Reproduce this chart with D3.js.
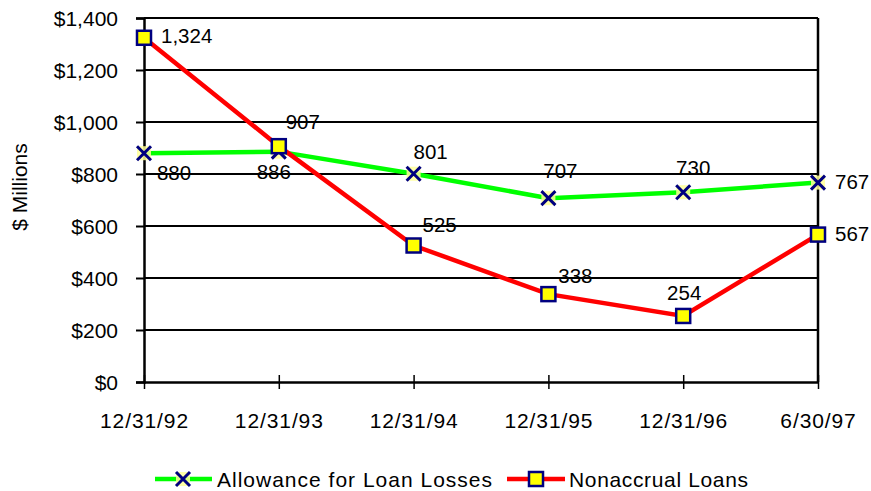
<!DOCTYPE html>
<html>
<head>
<meta charset="utf-8">
<script src="https://cdn.jsdelivr.net/npm/d3@7.9.0/dist/d3.min.js"></script>
<style>
  body { margin: 0; background: #fff; }
  svg text { font-family: "Liberation Sans", Arial, sans-serif; fill: #000; }
</style>
</head>
<body>
<svg id="chart" width="871" height="491"></svg>
<script>
const dates = ['12/31/92', '12/31/93', '12/31/94', '12/31/95', '12/31/96', '6/30/97'];
const allowance = [880, 886, 801, 707, 730, 767];
const nonaccrual = [1324, 907, 525, 338, 254, 567];
const yTicks = [0, 200, 400, 600, 800, 1000, 1200, 1400];

// where each value label sits relative to its point (Excel placement)
const allowanceLabelPos = [[30, 27, 'middle'], [-5, 27, 'middle'], [17, -15, 'middle'], [12, -20, 'middle'], [10, -17, 'middle'], [17, 6, 'start']];
const nonaccrualLabelPos = [[17, 5, 'start'], [24, -17, 'middle'], [26, -14, 'middle'], [27, -11, 'middle'], [1, -16, 'middle'], [17, 6, 'start']];

const svg = d3.select('#chart');

let x = d3.scalePoint().domain(dates).range([144, 818]);
let y = d3.scaleLinear().domain([0, 1400]).range([382, 18]);

// gridlines
svg.append('g')
    .selectAll('line')
    .data(yTicks.filter(d => d > 0))
    .join('line')
    .attr('x1', 144).attr('x2', 818)
    .attr('y1', d => y(d)).attr('y2', d => y(d))
    .attr('stroke', '#000').attr('stroke-width', 2);

// y axis
let yAxis = svg.append('g')
    .attr('transform', 'translate(144,0)')
    .call(d3.axisLeft(y).tickValues(yTicks).tickSize(8).tickPadding(18)
        .tickFormat(d => '$' + d3.format(',')(d)));
yAxis.select('.domain').attr('stroke-width', 2.5);
yAxis.selectAll('.tick line').attr('stroke-width', 2);
yAxis.selectAll('.tick text').attr('font-size', 21).attr('dy', '0.36em');

// right border
svg.append('line')
    .attr('x1', 818).attr('x2', 818)
    .attr('y1', y(1400)).attr('y2', y(0))
    .attr('stroke', '#000').attr('stroke-width', 2.5);

// x axis
let xAxis = svg.append('g')
    .attr('transform', `translate(0,${y(0)})`)
    .call(d3.axisBottom(x).tickSize(7).tickSizeOuter(0).tickPadding(24));
xAxis.select('.domain').attr('stroke-width', 2.5);
xAxis.selectAll('.tick line').attr('y1', -7).attr('stroke-width', 1.5);
xAxis.selectAll('.tick text')
    .attr('font-size', 21)
    .attr('letter-spacing', '0.9px');

svg.append('text')
    .attr('transform', 'translate(27,187) rotate(-90)')
    .attr('text-anchor', 'middle')
    .attr('font-size', 21)
    .text('$ Millions');

let line = d3.line()
    .x((d, i) => x(dates[i]))
    .y(d => y(d));

svg.append('path')
    .datum(allowance)
    .attr('d', line)
    .attr('fill', 'none')
    .attr('stroke', '#00ff00')
    .attr('stroke-width', 4.5);

svg.append('path')
    .datum(nonaccrual)
    .attr('d', line)
    .attr('fill', 'none')
    .attr('stroke', '#ff0000')
    .attr('stroke-width', 4.5);

function crossMarker(g, cx, cy) {
    g.append('rect')
        .attr('x', cx - 7).attr('y', cy - 7)
        .attr('width', 14).attr('height', 14)
        .attr('fill', '#ffff99').attr('opacity', 0.85);
    g.append('path')
        .attr('d', `M${cx - 7},${cy - 7}L${cx + 7},${cy + 7}M${cx - 7},${cy + 7}L${cx + 7},${cy - 7}`)
        .attr('stroke', '#000080').attr('stroke-width', 3);
}

function squareMarker(g, cx, cy) {
    g.append('rect')
        .attr('x', cx - 7).attr('y', cy - 7)
        .attr('width', 14).attr('height', 14)
        .attr('fill', '#ffff00')
        .attr('stroke', '#000080').attr('stroke-width', 2.5);
}

let markers = svg.append('g');
allowance.forEach((v, i) => crossMarker(markers, x(dates[i]), y(v)));
nonaccrual.forEach((v, i) => squareMarker(markers, x(dates[i]), y(v)));

let labels = svg.append('g');
allowance.forEach((v, i) => {
    let [dx, dy, anchor] = allowanceLabelPos[i];
    labels.append('text')
        .attr('x', x(dates[i]) + dx).attr('y', y(v) + dy)
        .attr('text-anchor', anchor)
        .attr('font-size', 20.5)
        .text(d3.format(',')(v));
});
nonaccrual.forEach((v, i) => {
    let [dx, dy, anchor] = nonaccrualLabelPos[i];
    labels.append('text')
        .attr('x', x(dates[i]) + dx).attr('y', y(v) + dy)
        .attr('text-anchor', anchor)
        .attr('font-size', 20.5)
        .text(d3.format(',')(v));
});

// legend
let legend = svg.append('g');
legend.append('line')
    .attr('x1', 155).attr('x2', 212).attr('y1', 479).attr('y2', 479)
    .attr('stroke', '#00ff00').attr('stroke-width', 4.5);
crossMarker(legend, 183, 479);
legend.append('text')
    .attr('x', 217).attr('y', 487)
    .attr('font-size', 21).attr('letter-spacing', '1px')
    .text('Allowance for Loan Losses');

legend.append('line')
    .attr('x1', 507).attr('x2', 565).attr('y1', 479).attr('y2', 479)
    .attr('stroke', '#ff0000').attr('stroke-width', 4.5);
squareMarker(legend, 536, 479);
legend.append('text')
    .attr('x', 569).attr('y', 487)
    .attr('font-size', 21).attr('letter-spacing', '0.65px')
    .text('Nonaccrual Loans');
</script>
</body>
</html>
